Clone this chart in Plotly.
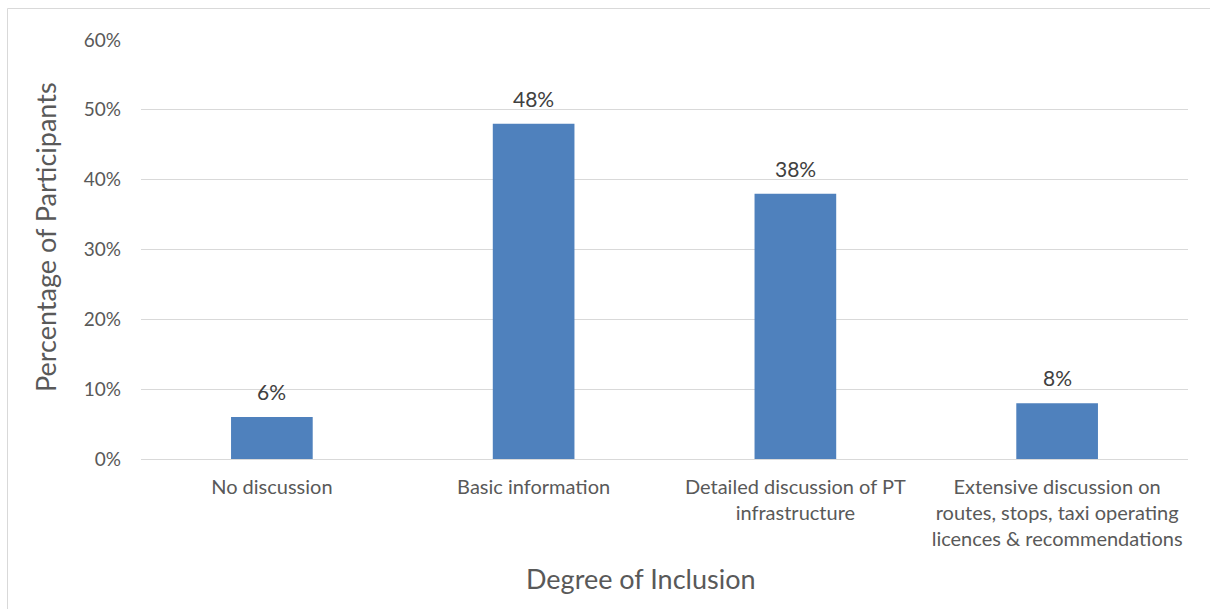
import plotly.graph_objects as go

categories = [
    "No discussion",
    "Basic information",
    "Detailed discussion of PT<br>infrastructure",
    "Extensive discussion on<br>routes, stops, taxi operating<br>licences & recommendations",
]
values = [0.06, 0.48, 0.38, 0.08]
value_labels = ["6%", "48%", "38%", "8%"]
y_ticks = [0, 0.1, 0.2, 0.3, 0.4, 0.5, 0.6]
y_tick_labels = ["0%", "10%", "20%", "30%", "40%", "50%", "60%"]

FONT = "Lato, Carlito, Calibri, sans-serif"

fig = go.Figure(
    go.Bar(
        x=categories,
        y=values,
        marker=dict(color="#4F81BD", line=dict(width=0)),
        cliponaxis=False,
    )
)

annotations = [
    dict(
        x=c, y=v, xref="x", yref="y",
        text=t, showarrow=False,
        xanchor="center", yanchor="bottom", yshift=11,
        font=dict(family=FONT, size=21, color="#404040"),
    )
    for c, v, t in zip(categories, values, value_labels)
]

annotations += [
    dict(
        text="Percentage of Participants",
        xref="paper", yref="paper",
        x=(45 - 141) / 1047, y=(459 - 237) / 419,
        textangle=-90, showarrow=False,
        xanchor="center", yanchor="middle",
        font=dict(family=FONT, size=27, color="#595959"),
    ),
    dict(
        text="Degree of Inclusion",
        xref="paper", yref="paper",
        x=(641 - 141) / 1047, y=(459 - 578) / 419,
        showarrow=False,
        xanchor="center", yanchor="middle",
        font=dict(family=FONT, size=27, color="#595959"),
    ),
]

fig.update_layout(
    width=1210,
    height=609,
    margin=dict(l=141, r=22, t=40, b=150),
    paper_bgcolor="white",
    plot_bgcolor="white",
    bargap=0.688,
    showlegend=False,
    font=dict(family=FONT, color="#595959"),
    xaxis=dict(
        showgrid=False,
        showline=False,
        ticks="",
        tickfont=dict(family=FONT, size=20, color="#595959"),
        ticklabelstandoff=14,
    ),
    yaxis=dict(
        range=[0, 0.6],
        tickvals=y_ticks,
        ticktext=y_tick_labels,
        showgrid=True,
        gridcolor="#D9D9D9",
        gridwidth=1,
        zeroline=True,
        zerolinecolor="#D9D9D9",
        zerolinewidth=1,
        showline=False,
        ticks="",
        tickfont=dict(family=FONT, size=19, color="#595959"),
        ticklabelstandoff=19,
    ),
    annotations=annotations,
    shapes=[
        dict(
            type="rect", xref="paper", yref="paper",
            x0=(7.5 - 141) / 1047, x1=(1220 - 141) / 1047,
            y0=(459 - 620) / 419, y1=(459 - 8.5) / 419,
            line=dict(color="#D9D9D9", width=1),
            fillcolor="rgba(0,0,0,0)",
            layer="below",
        )
    ],
)

fig.write_html("out.html")
